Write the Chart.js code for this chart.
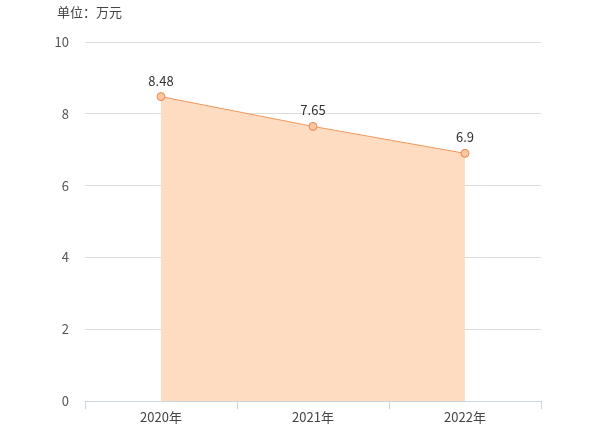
<!DOCTYPE html>
<html>
<head>
<meta charset="utf-8">
<script src="https://cdn.jsdelivr.net/npm/chart.js@4"></script>
<style>
body { margin: 0; background: #fff; }
#wrap { position: relative; width: 595px; height: 425px; }
#unit { position: absolute; left: 57px; top: 2px; font: 13px "Noto Sans CJK SC", sans-serif; color: #444; }
</style>
</head>
<body>
<div id="wrap">
<div id="unit">单位：万元</div>
<canvas id="myChart" width="595" height="425"></canvas>
</div>
<script>
const categories = ["2020年", "2021年", "2022年"];
const values = [8.48, 7.65, 6.9];
const yTicks = [0, 2, 4, 6, 8, 10];

const valueLabels = {
    id: "valueLabels",
    afterDatasetsDraw(chart) {
        const ctx = chart.ctx;
        const meta = chart.getDatasetMeta(0);
        ctx.save();
        ctx.font = '13px "Noto Sans CJK SC", sans-serif';
        ctx.fillStyle = "#333";
        ctx.textAlign = "center";
        meta.data.forEach((pt, i) => {
            ctx.fillText(String(values[i]), pt.x, pt.y - 11);
        });
        ctx.restore();
    }
};

new Chart("myChart", {
    type: "line",
    data: {
        labels: categories,
        datasets: [{
            data: values,
            borderColor: "#f0975a",
            borderWidth: 1,
            backgroundColor: "#fddcc2",
            fill: "origin",
            tension: 0,
            pointRadius: 4,
            pointBackgroundColor: "#fbc7a3",
            pointBorderColor: "#e8884a",
            pointBorderWidth: 1
        }]
    },
    options: {
        responsive: false,
        animation: false,
        layout: { padding: { top: 42, right: 54, left: 0, bottom: 0 } },
        plugins: { legend: { display: false }, tooltip: { enabled: false } },
        scales: {
            x: {
                offset: true,
                grid: { offset: true, drawOnChartArea: false, tickLength: 8, color: "#ccd6e0" },
                border: { color: "#ccd6e0" },
                ticks: { color: "#444", font: { size: 13, family: '"Noto Sans CJK SC", sans-serif' }, padding: 0 }
            },
            y: {
                min: 0, max: 10,
                afterBuildTicks: axis => { axis.ticks = yTicks.map(v => ({ value: v })); },
                afterFit: axis => { axis.width = 85; },
                grid: { color: "#dcdcdc", drawTicks: false },
                border: { display: false },
                ticks: { color: "#555", font: { size: 13, family: '"Noto Sans CJK SC", sans-serif' }, padding: 16 }
            }
        }
    },
    plugins: [valueLabels]
});
</script>
</body>
</html>
